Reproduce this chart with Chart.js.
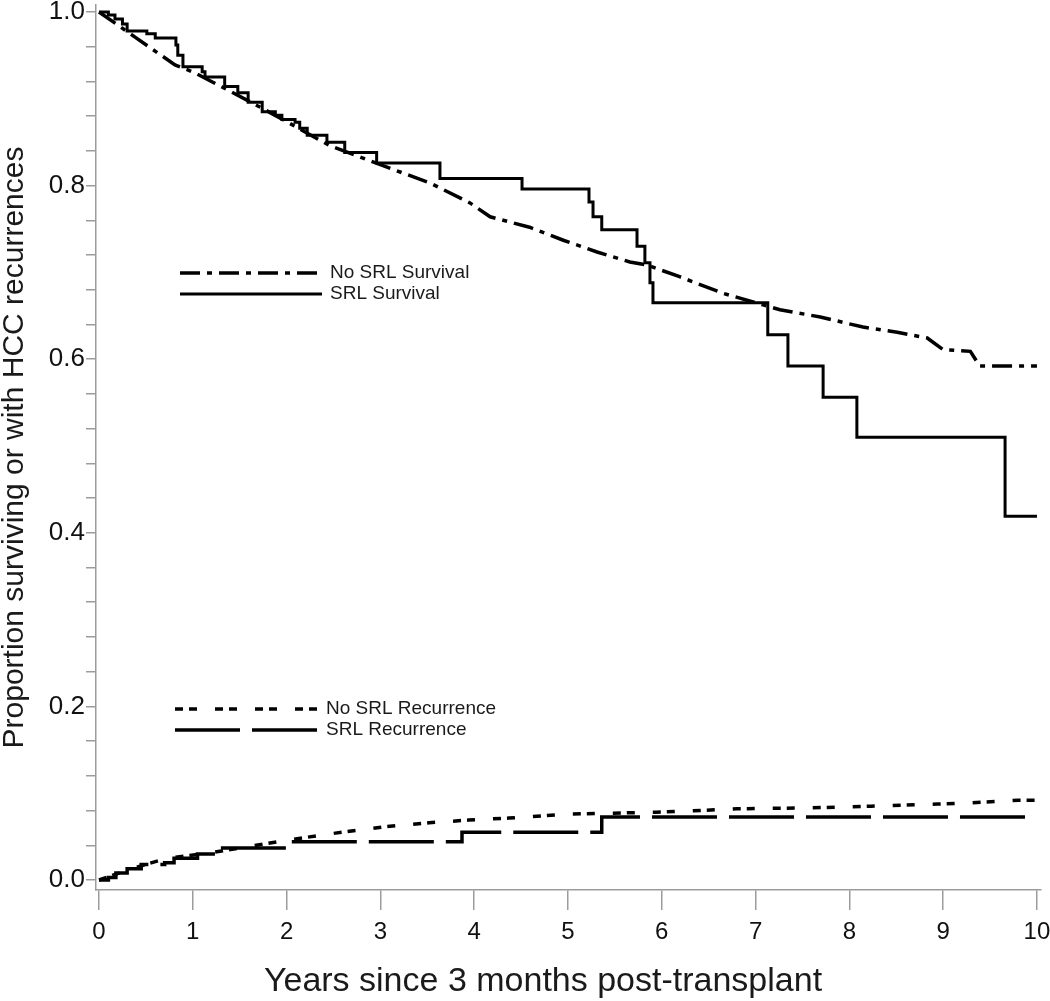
<!DOCTYPE html>
<html>
<head>
<meta charset="UTF-8">
<title>survival.html</title>
<style>
	html, body {margin:0; padding:0; background:#fff;}
	#wrap {width:1050px; height:1001px;}
</style>
</head>
<body>
<div id="wrap"><canvas id="kmChart" width="1050" height="1001"></canvas></div>
<script src="https://cdn.jsdelivr.net/npm/chart.js@4.4.0/dist/chart.umd.min.js"></script>
<script>
	// Kaplan-Meier data (years, proportion)
	const srlSurvYears = [0, 0.10, 0.17, 0.25, 0.30, 0.51, 0.60, 0.82, 0.84, 0.895, 1.10, 1.13, 1.34, 1.48, 1.59, 1.74, 1.88, 1.95, 2.09,
		2.14, 2.22, 2.43, 2.62, 2.96, 3.635, 4.51, 5.224, 5.267, 5.36, 5.736, 5.82, 5.874, 5.906, 7.13, 7.345, 7.72, 8.08, 9.66, 10.0];
	const srlSurv = [1.0, 0.9965, 0.992, 0.986, 0.978, 0.975, 0.970, 0.962, 0.950, 0.937, 0.931, 0.925, 0.914, 0.907, 0.896, 0.885, 0.881, 0.876, 0.873,
		0.866, 0.858, 0.850, 0.838, 0.826, 0.808, 0.796, 0.781, 0.764, 0.749, 0.730, 0.711, 0.688, 0.665, 0.628, 0.592, 0.556, 0.510, 0.419, 0.419];

	const noSrlSurvYears = [0, 0.384, 0.81, 1.02, 1.375, 1.74, 2.01, 2.46, 3.0, 3.53, 3.955, 4.17, 4.59, 4.95, 5.31, 5.66, 5.84,
		6.19, 6.65, 7.08, 7.26, 7.69, 8.145, 8.51, 8.83, 9.0, 9.29, 9.39, 10.0];
	const noSrlSurv = [1.0, 0.971, 0.939, 0.930, 0.910, 0.889, 0.873, 0.846, 0.824, 0.803, 0.780, 0.764, 0.752, 0.737, 0.7235, 0.712, 0.7085,
		0.695, 0.676, 0.6625, 0.657, 0.6486, 0.637, 0.631, 0.6244, 0.611, 0.609, 0.592, 0.592];

	const noSrlRecYears = [0, 0.37, 0.72, 1.16, 1.51, 2.01, 2.52, 3.02, 3.52, 3.94, 4.37, 5.01, 5.45, 5.94, 6.8, 7.52, 8.23, 8.94, 9.3, 9.8, 10.0];
	const noSrlRec = [0, 0.0138, 0.025, 0.031, 0.037, 0.046, 0.054, 0.061, 0.066, 0.069, 0.0714, 0.076, 0.077, 0.078, 0.082, 0.083, 0.085, 0.0875, 0.089, 0.092, 0.092];

	const srlRecYears = [0, 0.10, 0.18, 0.30, 0.45, 0.70, 0.80, 1.05, 1.25, 2.0, 3.87, 5.36, 10.0];
	const srlRec = [0, 0.003, 0.008, 0.013, 0.018, 0.020, 0.025, 0.030, 0.037, 0.044, 0.055, 0.0726, 0.0726];

	const seriesNames = ['No SRL Survival', 'SRL Survival', 'No SRL Recurrence', 'SRL Recurrence'];
	const xTickValues = [0, 1, 2, 3, 4, 5, 6, 7, 8, 9, 10];
	const xTickLabels = ['0', '1', '2', '3', '4', '5', '6', '7', '8', '9', '10'];
	const yTickLabels = ['0.0', '0.2', '0.4', '0.6', '0.8', '1.0'];
	const xTitle = 'Years since 3 months post-transplant';
	const yTitle = 'Proportion surviving or with HCC recurrences';

	const FONT = '"Liberation Sans", Arial, sans-serif';
	const AXIS = '#9c9c9c';

	function pts(xs, ys) {
		return xs.map((x, i) => ({x: x, y: ys[i]}));
	}

	// minor y ticks every 0.04, labelled every 0.2
	const yTickValues = [];
	for (let i = 0; i <= 25; i++) yTickValues.push(+(i * 0.04).toFixed(2));

	// in-plot legends + x title
	const annot = {
		id: 'annot',
		afterDraw(chart) {
			const ctx = chart.ctx;
			const rows = [
				{ds: 0, x1: 180, x2: 322, y: 273},
				{ds: 1, x1: 180, x2: 322, y: 294},
				{ds: 2, x1: 175, x2: 318, y: 709},
				{ds: 3, x1: 175, x2: 318, y: 730}
			];
			ctx.save();
			rows.forEach(r => {
				const d = chart.data.datasets[r.ds];
				ctx.beginPath();
				ctx.setLineDash(d.borderDash || []);
				ctx.lineWidth = d.borderWidth;
				ctx.strokeStyle = d.borderColor;
				ctx.moveTo(r.x1, r.y);
				ctx.lineTo(r.x2, r.y);
				ctx.stroke();
				ctx.setLineDash([]);
				ctx.fillStyle = '#1a1a1a';
				ctx.font = '19px ' + FONT;
				ctx.textAlign = 'left';
				ctx.textBaseline = 'middle';
				ctx.fillText(d.label, r.x2 + 8, r.y);
			});
			ctx.font = '34px ' + FONT;
			ctx.textAlign = 'center';
			ctx.textBaseline = 'middle';
			ctx.fillStyle = '#1a1a1a';
			ctx.fillText(xTitle, 543, 982);
			ctx.restore();
		}
	};

	const ctx = document.getElementById('kmChart');
	const chart = new Chart(ctx, {
		type: 'line',
		data: {
			datasets: [{
				label: seriesNames[0],
				data: pts(noSrlSurvYears, noSrlSurv),
				borderColor: '#000',
				borderWidth: 3.5,
				borderDash: [20, 7, 5, 7]
			}, {
				label: seriesNames[1],
				data: pts(srlSurvYears, srlSurv),
				borderColor: '#000',
				borderWidth: 3,
				stepped: 'before'
			}, {
				label: seriesNames[2],
				data: pts(noSrlRecYears, noSrlRec),
				borderColor: '#000',
				borderWidth: 3.5,
				borderDash: [8, 6, 8, 18]
			}, {
				label: seriesNames[3],
				data: pts(srlRecYears, srlRec),
				borderColor: '#000',
				borderWidth: 3.5,
				borderDash: [65, 12],
				stepped: 'before'
			}]
		},
		options: {
			responsive: false,
			animation: false,
			layout: {padding: {top: 5, right: 9, left: 0, bottom: 0}},
			elements: {point: {radius: 0}, line: {tension: 0, fill: false}},
			plugins: {legend: {display: false}, tooltip: {enabled: false}},
			scales: {
				x: {
					type: 'linear',
					min: -0.032,
					max: 10.043,
					afterBuildTicks: s => { s.ticks = xTickValues.map(v => ({value: v})); },
					afterFit: s => { s.height = 111; s.paddingLeft = 0; s.paddingRight = 0; },
					ticks: {
						padding: 8,
						color: '#111',
						font: {family: FONT, size: 24},
						maxRotation: 0,
						callback: (v, i) => xTickLabels[i]
					},
					grid: {drawOnChartArea: false, drawTicks: true, tickLength: 20, color: AXIS, lineWidth: 1.5},
					border: {display: true, color: AXIS, width: 1.5}
				},
				y: {
					type: 'linear',
					min: -0.0115,
					max: 1.008,
					afterBuildTicks: s => { s.ticks = yTickValues.map(v => ({value: v})); },
					afterFit: s => { s.width = 96; s.paddingTop = 0; s.paddingBottom = 0; },
					ticks: {
						padding: 1,
						color: '#111',
						font: {family: FONT, size: 26},
						callback: (v, i) => (i % 5 === 0 ? yTickLabels[i / 5] : '')
					},
					grid: {drawOnChartArea: false, drawTicks: true, tickLength: 10, color: AXIS, lineWidth: 1.5},
					border: {display: true, color: AXIS, width: 1.5},
					title: {
						display: true,
						text: yTitle,
						color: '#1a1a1a',
						font: {family: FONT, size: 30, lineHeight: 1},
						padding: {top: 0, bottom: 0}
					}
				}
			}
		},
		plugins: [annot]
	});
</script>
</body>
</html>
